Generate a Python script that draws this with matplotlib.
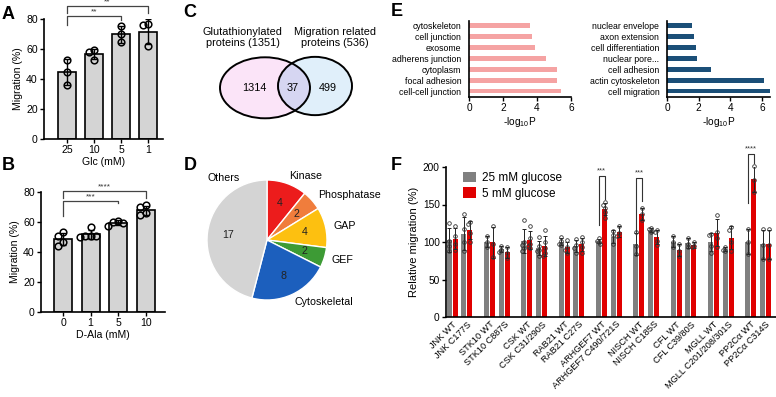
import numpy as np
import matplotlib
matplotlib.use('Agg')
import matplotlib.pyplot as plt
from matplotlib.patches import Ellipse, Polygon

plt.rcParams['font.family'] = ['Liberation Sans', 'DejaVu Sans']
plt.rcParams['mathtext.fontset'] = 'custom'
plt.rcParams['mathtext.rm'] = 'Liberation Sans'
plt.rcParams['mathtext.it'] = 'Liberation Sans:italic'
plt.rcParams['mathtext.default'] = 'regular'

# ---------------- data ----------------
glc_labels = ['25', '10', '5', '1']
glc_points = [[53, 45, 36], [59.5, 58, 53], [75.6, 69.8, 64.4], [76.5, 76, 62]]
glc_brackets = [(0, 2, 82, 76, 79.5, '**'), (0, 3, 88.7, 84, 84, '**')]

ala_labels = ['0', '1', '5', '10']
ala_points = [[53.1, 50.4, 46.7, 43.8], [56.7, 51, 50.5, 50.5, 50],
              [61, 60.2, 59.5, 57.6], [71.1, 69.8, 65.8, 64.4]]
ala_brackets = [(0, 2, 74, 64, 72.5, '***'), (0, 3, 80.7, 76, 76, '****')]

venn_titles = ['Glutathionylated\nproteins (1351)', 'Migration related\nproteins (536)']
venn_counts = [1314, 37, 499]

pie_labels = ['Kinase', 'Phosphatase', 'GAP', 'GEF', 'Cytoskeletal', 'Others']
pie_counts = [4, 2, 4, 2, 8, 17]
pie_colors = ['#ec1c1c', '#f07d3c', '#fdc010', '#3d9b35', '#1c5fbd', '#d4d4d4']

cc_terms = ['cytoskeleton', 'cell junction', 'exosome', 'adherens junction',
            'cytoplasm', 'focal adhesion', 'cell-cell junction']
cc_logp = [3.6, 3.7, 3.9, 4.5, 5.2, 5.2, 5.4]
bp_terms = ['nuclear envelope', 'axon extension', 'cell differentiation', 'nuclear pore...',
            'cell adhesion', 'actin cytoskeleton', 'cell migration']
bp_logp = [1.6, 1.7, 1.8, 1.9, 2.8, 6.1, 6.5]

f_proteins = ['JNK', 'STK10', 'CSK', 'RAB21', 'ARHGEF7', 'NISCH', 'CFL', 'MGLL', 'PP2Cα']
f_mutants = ['C177S', 'C887S', 'C31/290S', 'C27S', 'C490/721S', 'C185S', 'C39/80S',
             'C201/208/301S', 'C314S']
f_dots_25 = [
    [125, 102, 95, 88], [138, 118, 100, 88],
    [108, 100, 94], [95, 90, 87],
    [129, 100, 96, 92, 88], [107, 95, 90, 88, 82],
    [107, 101, 98, 96], [104, 96, 92, 86],
    [105, 101, 100, 98], [115, 110, 97],
    [113, 95, 84], [119, 117, 115, 113],
    [108, 100, 94], [105, 98, 93],
    [111, 109, 95, 86], [94, 90, 88],
    [117, 100, 84], [117, 96, 78],
]
f_dots_5 = [
    [122, 108, 98, 90], [127, 124, 112, 100],
    [121, 98, 80], [94, 86, 79],
    [122, 106, 98, 95, 92], [116, 100, 92, 85, 82],
    [103, 94, 90, 86], [107, 100, 94, 86],
    [153, 150, 146, 140, 132], [122, 112, 108],
    [145, 137, 130], [116, 113, 102, 96],
    [98, 88, 82], [100, 95, 93],
    [136, 114, 106, 94], [120, 116, 100, 88],
    [201, 183, 167], [117, 96, 78],
]
# (protein index, bracket top, left leg bottom, right leg bottom, text)
f_brackets = [(4, 188, 123, 158, '***'), (5, 185, 109, 155, '***'), (8, 217, 151.5, 206, '****')]

# ---------------- figure ----------------
W, H = 776, 397
fig = plt.figure(figsize=(W / 100, H / 100), dpi=100)


def ax_px(x0, y0, x1, y1):
    return fig.add_axes([x0 / W, 1 - y1 / H, (x1 - x0) / W, (y1 - y0) / H])


def swarm(vals, dy, dx):
    placed, xs = [], []
    cands = [0] + [s * m * dx for m in range(1, 5) for s in (-1, 1)]
    for v in vals:
        for c in cands:
            if all(abs(c - px) >= dx * 0.99 or abs(v - pv) >= dy for px, pv in placed):
                break
        placed.append((c, v))
        xs.append(c)
    return np.array(xs)


def style_axes(ax):
    for s in ['top', 'right']:
        ax.spines[s].set_visible(False)
    for s in ['left', 'bottom']:
        ax.spines[s].set_linewidth(1.2)


def bar_panel(ax, labels, points, brackets, xlabel, xlim):
    x = np.arange(len(labels))
    means = [np.mean(p) for p in points]
    sds = [np.std(p, ddof=1) for p in points]
    ax.bar(x, means, width=0.65, color='#d4d4d4', edgecolor='black', linewidth=1.2, zorder=1)
    ax.errorbar(x, means, yerr=sds, fmt='none', ecolor='black', elinewidth=1,
                capsize=2.5, capthick=1, zorder=2)
    for xi, p in zip(x, points):
        offs = swarm(p, 3.4, 0.19)
        ax.plot(xi + offs, p, 'o', ms=4.8, mfc='none', mec='black', mew=1.1,
                zorder=3, clip_on=False)
    for i, j, h, li, lj, t in brackets:
        ax.plot([x[i], x[i], x[j], x[j]], [li, h, h, lj], color='#444444', lw=0.9,
                clip_on=False)
        ax.text((x[i] + x[j]) / 2, h + 0.3, t, ha='center', va='bottom', fontsize=6,
                color='#333333')
    ax.set_ylim(0, 80)
    ax.set_yticks([0, 20, 40, 60, 80])
    ax.set_xlim(*xlim)
    ax.set_xticks(x)
    ax.set_xticklabels(labels)
    ax.set_ylabel('Migration (%)', fontsize=7.6, labelpad=2)
    ax.set_xlabel(xlabel, fontsize=7.6, labelpad=1)
    ax.tick_params(labelsize=7.6, length=3, width=1, pad=1.5)
    style_axes(ax)


# ---- A ----
axA = ax_px(44, 19, 163, 139)
bar_panel(axA, glc_labels, glc_points, glc_brackets, 'Glc (mM)', (-0.85, 3.55))
# ---- B ----
axB = ax_px(41, 192, 165, 312)
bar_panel(axB, ala_labels, ala_points, ala_brackets, 'D-Ala (mM)', (-0.8, 3.7))

# ---- C Venn ----
axC = ax_px(200, 15, 380, 130)
axC.set_xlim(200, 380)
axC.set_ylim(130, 15)
axC.axis('off')
left_geom = ((265, 87.8), 90, 61)
right_geom = ((315, 86), 74, 58.3)


def ell_pts(geom, n=400):
    (cx, cy), w, h = geom
    t = np.linspace(0, 2 * np.pi, n, endpoint=False)
    return np.column_stack([cx + w / 2 * np.cos(t), cy + h / 2 * np.sin(t)])


def inside(pts, geom):
    (cx, cy), w, h = geom
    return ((pts[:, 0] - cx) / (w / 2)) ** 2 + ((pts[:, 1] - cy) / (h / 2)) ** 2 <= 1


pl, pr = ell_pts(left_geom), ell_pts(right_geom)
lens = np.vstack([pl[inside(pl, right_geom)], pr[inside(pr, left_geom)]])
cen = lens.mean(axis=0)
lens = lens[np.argsort(np.arctan2(lens[:, 1] - cen[1], lens[:, 0] - cen[0]))]

axC.add_patch(Ellipse(*left_geom, facecolor='#fbe4f8', edgecolor='none', zorder=1))
axC.add_patch(Ellipse(*right_geom, facecolor='#e0effa', edgecolor='none', zorder=1))
axC.add_patch(Polygon(lens, closed=True, facecolor='#d6d6f2', edgecolor='none', zorder=2))
for g in [left_geom, right_geom]:
    axC.add_patch(Ellipse(*g, facecolor='none', edgecolor='black', lw=1.4, zorder=3))
axC.text(242.7, 37.5, venn_titles[0], ha='center', va='center', fontsize=7.8, linespacing=1.15)
axC.text(335, 37.5, venn_titles[1], ha='center', va='center', fontsize=7.8, linespacing=1.15)
for xx, n in zip([254, 293, 328], venn_counts):
    axC.text(xx, 88, str(n), ha='center', va='center', fontsize=7.8, zorder=4)

# ---- D Pie ----
axD = ax_px(267 - 75, 240 - 75, 267 + 75, 240 + 75)
total = sum(pie_counts)
shown = [l if l != 'Others' else '' for l in pie_labels]
wedges, texts, autotexts = axD.pie(
    pie_counts, labels=shown, colors=pie_colors, startangle=90, counterclock=False,
    labeldistance=1.13, pctdistance=0.65,
    autopct=lambda p: f'{int(round(p * total / 100))}',
    wedgeprops=dict(edgecolor='white', linewidth=1),
    textprops=dict(fontsize=7.7))
for t in autotexts:
    t.set_color('#222222')
axD.text(-0.73, 1.03, 'Others', ha='center', va='center', fontsize=7.7)
axD.set_xlim(-1.25, 1.25)
axD.set_ylim(-1.25, 1.25)
axD.set_aspect('equal')

# ---- E ----
def go_panel(ax, terms, vals, color, xmax):
    y = np.arange(len(terms))[::-1]
    ax.barh(y, vals, height=0.45, color=color)
    ax.set_yticks(y)
    ax.set_yticklabels(terms, fontsize=6.3)
    ax.set_ylim(-0.55, len(terms) - 0.55)
    ax.set_xlim(0, xmax)
    ax.set_xticks([0, 2, 4, 6])
    ax.tick_params(axis='x', labelsize=7.3, length=3, width=1, pad=1.5)
    ax.tick_params(axis='y', length=0, pad=5.5)
    ax.set_xlabel('-log$_{10}$P', fontsize=7.3, labelpad=1)
    style_axes(ax)


axE1 = ax_px(469, 21, 571, 97)
go_panel(axE1, cc_terms, cc_logp, '#f5a3a3', 6)
axE2 = ax_px(667, 21, 770, 97)
go_panel(axE2, bp_terms, bp_logp, '#1b4f78', 6.5)

# ---- F ----
axF = ax_px(446, 167, 776, 317)
stride, pair, cond, bw = 6.25, 2.45, 1.0, 0.85
labels_f, xs_lab = [], []
for g, (p, m) in enumerate(zip(f_proteins, f_mutants)):
    for v, name in enumerate([f'{p} WT', f'{p} {m}']):
        k = 2 * g + v
        base = g * stride + v * pair
        labels_f.append(name)
        xs_lab.append(base + cond / 2)
        for c, (dots, col) in enumerate([(f_dots_25[k], '#808080'), (f_dots_5[k], '#e00000')]):
            xx = base + c * cond
            mu, sd = np.mean(dots), np.std(dots, ddof=1)
            axF.bar(xx, mu, width=bw, color=col, zorder=1,
                    label=(['25 mM glucose', '5 mM glucose'][c] if k == 0 else None))
            axF.errorbar(xx, mu, yerr=sd, fmt='none', ecolor='#222222', elinewidth=0.7,
                         capsize=1.3, capthick=0.7, zorder=2)
            offs = swarm(dots, 4.5, 0.3)
            axF.plot(xx + offs, dots, 'o', ms=2.6, mfc='none', mec='#333333', mew=0.6,
                     zorder=3, clip_on=False)
for g, top, lb, rb, t in f_brackets:
    x0 = g * stride
    x1 = x0 + cond
    axF.plot([x0, x0, x1, x1], [lb, top, top, rb], color='#333333', lw=0.8, clip_on=False)
    axF.text((x0 + x1) / 2, top + 2, t, ha='center', va='bottom', fontsize=5.5, color='#333333')
axF.set_xlim(-0.55, 54.7)
axF.set_ylim(0, 200)
axF.set_yticks([0, 50, 100, 150, 200])
axF.set_xticks(xs_lab)
axF.set_xticklabels(labels_f, rotation=45, ha='right', rotation_mode='anchor', fontsize=6.6)
axF.tick_params(axis='y', labelsize=7.3, length=3, width=1, pad=1.5)
axF.tick_params(axis='x', length=0, pad=2)
axF.set_ylabel('Relative migration (%)', fontsize=8, labelpad=3)
style_axes(axF)
axF.legend(loc='upper left', bbox_to_anchor=(0.02, 1.04), frameon=False, fontsize=8.5,
           handlelength=1.1, handleheight=1.0, handletextpad=0.5, labelspacing=0.3)

# ---- panel letters ----
for t, (px, py) in zip('ABCDEF', [(8.5, 14.5), (8.5, 166), (190, 12.5), (190, 166),
                                  (396.5, 11), (396.5, 165)]):
    fig.text(px / W, 1 - py / H, t, fontsize=13, fontweight='bold', ha='center', va='center')

fig.savefig('out.png', dpi=100)
